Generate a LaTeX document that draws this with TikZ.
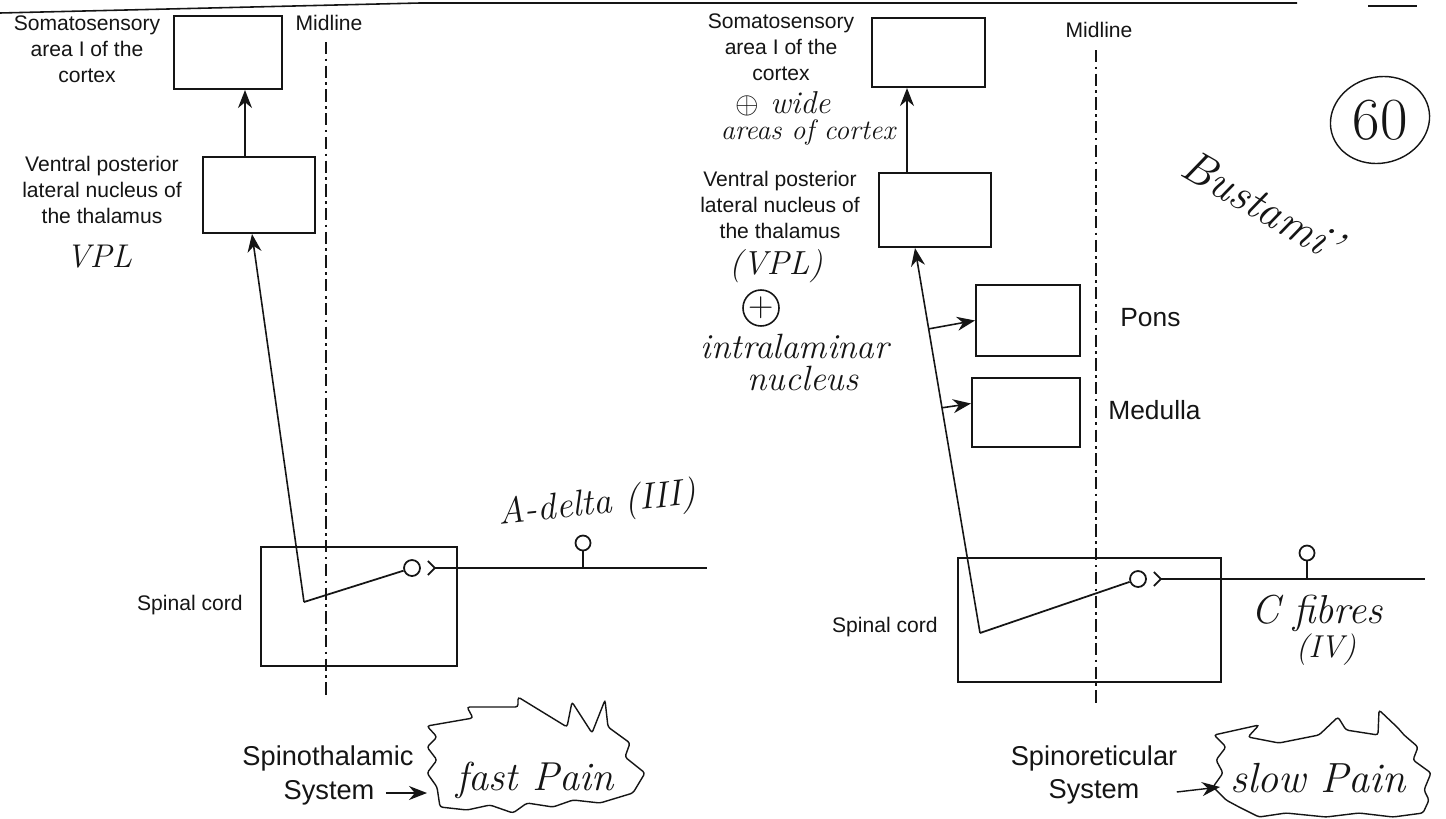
\documentclass[tikz,border=0pt]{standalone}
\usepackage{fontspec}
\newfontfamily\printfont{Liberation Sans}
\usepackage{tikz}
\usetikzlibrary{arrows.meta,calc}
\definecolor{ink}{HTML}{151515}

\begin{document}
\begin{tikzpicture}[
  x=0.02cm, y=-0.02cm,
  every node/.style={text=ink},
  box/.style={draw=ink,line width=1.2pt,inner sep=0pt},
  lbl/.style={font=\printfont\fontsize{12}{14.7}\selectfont,align=center,inner sep=0pt},
  biglbl/.style={font=\printfont\fontsize{15.5}{19.8}\selectfont,align=center,inner sep=0pt},
  hand/.style={font=\itshape\fontsize{#1}{#1}\selectfont,inner sep=0pt},
  hand/.default=20,
  arr/.style={-{Stealth[length=3.6mm,width=2.8mm]},draw=ink,line width=0.9pt},
  nerve/.style={draw=ink,line width=1pt},
  midl/.style={draw=ink,line width=1.1pt,dash pattern=on 7pt off 2.5pt on 1.5pt off 2.5pt},
  syn/.style={circle,draw=ink,line width=1pt,minimum size=0.32cm,inner sep=0pt},
  scrawl/.style={draw=ink,line width=0.8pt,rounded corners=1.5pt}
]
\fill[white] (0,0) rectangle (1446,818);
\useasboundingbox (0,0) rectangle (1446,818);

% page edge
\draw[ink,line width=0.9pt] (0,13) -- (420,3) -- (1297,3);
\draw[ink,line width=0.9pt] (1368,6) -- (1417,6);

%%% Left: spinothalamic system

% cortex and thalamus
\node[box,minimum width=2.16cm,minimum height=1.46cm] (ctxL) at (228,52.5) {};
\node[lbl] (ctxLtxt) at (87,49) {Somatosensory\\area I of the\\cortex};
\node[box,minimum width=2.24cm,minimum height=1.52cm] (vplL) at (259,195) {};
\node[lbl] (vplLtxt) at (102,190) {Ventral posterior\\lateral nucleus of\\the thalamus};
\node[hand=18.7] (vplLh) at (99,257) {VPL};
\draw[arr] (vplL.north) ++(-14,0) coordinate (aL) -- (aL |- ctxL.south);

% midline
\node[lbl] (midL) at (329,23) {Midline};
\draw[midl] (326,42) -- (326,697);

% spinal cord
\node[box,minimum width=3.92cm,minimum height=2.38cm] (cordL) at (359,606.5) {};
\node[lbl,anchor=east] (cordLtxt) at (243,605) {Spinal cord};
\coordinate (cnrL) at (304,602);
\node[syn] (synL) at (412,568) {};
\draw[nerve] (cnrL) -- (synL);
\draw[arr] (cnrL) -- ([xshift=-0.14cm]vplL.south);
\draw[nerve] ($(synL.east)+(7,-7)$) -- ($(synL.east)+(14,0)$) -- ($(synL.east)+(7,7)$);
\coordinate (fibL) at (707,568);
\draw[nerve] ($(synL.east)+(14,0)$) -- (fibL);
\node[syn,minimum size=0.3cm] (ganL) at (583,543) {};
\draw[nerve] (ganL.south) -- (ganL.south |- fibL);
\node[hand=21,rotate=6] (adelta) at (597,505) {A-delta (III)};

% fast pain
\node[biglbl] (sttA) at (328,758) {Spinothalamic};
\node[biglbl] (sttB) at (329,793) {System};
\coordinate (fastin) at (427,793);
\draw[arr,line width=0.8pt] ([xshift=0.22cm]sttB.east) -- (fastin);
\draw[scrawl] (427,726) -- (473,718) -- (467,707) -- (518,707) -- (518,697) -- (567,727)
  -- (572,702) -- (592,733) -- (605,700) -- (608,727) -- (630,743) -- (625,757) -- (645,773)
  -- (633,793) -- (600,803) -- (573,800) -- (553,807) -- (527,803) -- (513,813) -- (490,805)
  -- (467,810) -- (440,807) -- (437,787) -- (427,773) -- (437,760) -- (427,747) -- (437,737) -- cycle;
\node[hand=23] (fast) at (535,780) {fast Pain};

%%% Right: spinoreticular system

% cortex and thalamus
\node[box,minimum width=2.26cm,minimum height=1.38cm] (ctxR) at (928.5,52.5) {};
\node[lbl] (ctxRtxt) at (781,47) {Somatosensory\\area I of the\\cortex};
\node[hand=18] (wide) at (783,104) {$\oplus$ wide};
\node[hand=16] (areas) at (808,132) {areas of cortex};
\node[box,minimum width=2.24cm,minimum height=1.48cm] (vplR) at (935,210) {};
\node[lbl] (vplRtxt) at (780,205) {Ventral posterior\\lateral nucleus of\\the thalamus};
\draw[arr] (vplR.north) ++(-28,0) coordinate (aR) -- (aR |- ctxR.south);
\node[hand=19] (vplRh) at (776,266) {(VPL)};
\node[circle,draw=ink,line width=0.9pt,minimum size=0.72cm,inner sep=0pt,
  font=\fontsize{20}{20}\selectfont] (plusR) at (761,308) {+};
\node[hand=20,anchor=base] (intra) at (795,358) {intralaminar};
\node[hand=20,anchor=base] (nucl) at (803,390) {nucleus};

% brainstem
\node[box,minimum width=2.08cm,minimum height=1.42cm] (pons) at (1028,320.5) {};
\node[box,minimum width=2.16cm,minimum height=1.38cm] (medul) at (1026,412.5) {};
\node[biglbl,anchor=west,font=\printfont\fontsize{15}{18}\selectfont] (ponsTxt) at (1120,318) {Pons};
\node[biglbl,anchor=west,font=\printfont\fontsize{15}{18}\selectfont] (medTxt) at (1108,410) {Medulla};

% midline
\node[lbl] (midR) at (1099,30) {Midline};
\draw[midl] (1096,50) -- (1096,703);

% spinal cord
\node[box,minimum width=5.26cm,minimum height=2.48cm] (cordR) at (1089.5,620) {};
\node[lbl,anchor=east] (cordRtxt) at (938,627) {Spinal cord};
\coordinate (cnrR) at (980,633);
\coordinate (tipR) at ($(vplR.south)+(-20,0)$);
\draw[arr] (cnrR) -- (tipR);
\draw[arr] ($(cnrR)!0.79!(tipR)$) -- (pons.west);
\draw[arr] ($(cnrR)!0.585!(tipR)$) -- ([yshift=0.18cm]medul.west);
\node[syn] (synR) at (1138,579) {};
\draw[nerve] (cnrR) -- (synR);
\draw[nerve] ($(synR.east)+(7,-7)$) -- ($(synR.east)+(14,0)$) -- ($(synR.east)+(7,7)$);
\coordinate (fibR) at (1425,579);
\draw[nerve] ($(synR.east)+(14,0)$) -- (fibR);
\node[syn,minimum size=0.3cm] (ganR) at (1307,553) {};
\draw[nerve] (ganR.south) -- (ganR.south |- fibR);
\node[hand=23] (cfib) at (1317,613) {C fibres};
\node[hand=18] (cfibn) at (1326,650) {(IV)};

% slow pain
\node[biglbl] (srtA) at (1094,758) {Spinoreticular};
\node[biglbl] (srtB) at (1094,792) {System};
\coordinate (slowin) at (1220,787);
\draw[arr,line width=0.8pt] ([xshift=0.74cm]srtB.east) -- (slowin);
\draw[scrawl] (1214,735) -- (1259,725) -- (1248,737) -- (1279,743) -- (1319,735) -- (1338,717)
  -- (1346,730) -- (1378,735) -- (1379,710) -- (1398,728) -- (1404,735) -- (1418,747) -- (1413,760)
  -- (1431,773) -- (1424,790) -- (1429,800) -- (1423,813) -- (1393,817) -- (1359,813) -- (1326,817)
  -- (1286,813) -- (1259,817) -- (1239,807) -- (1226,800) -- (1213,787) -- (1223,773) -- (1216,760)
  -- (1226,747) -- cycle;
\node[hand=24] (slow) at (1318,778) {slow Pain};

% margin notes
\node[font=\fontsize{34}{34}\selectfont,inner sep=0pt] (pg) at (1380,120) {60};
\draw[scrawl] (pg) ellipse [x radius=1cm,y radius=0.86cm,rotate=15];
\node[hand=26,rotate=-30] (sign) at (1262,205) {Bustami'};

\end{tikzpicture}
\end{document}
